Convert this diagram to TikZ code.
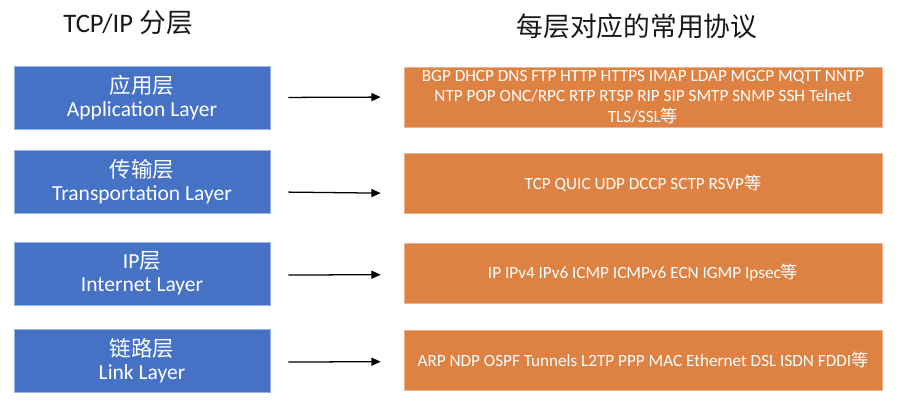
\documentclass[tikz,border=0pt]{standalone}
\usepackage{fontspec}
\setmainfont{Carlito}
\newfontfamily\zhfont{Noto Sans CJK SC}
\newcommand{\zh}[1]{{\zhfont #1}}
\usepackage{tikz}
\usetikzlibrary{arrows.meta}
\definecolor{layerblue}{RGB}{69,114,196}
\definecolor{protoorange}{RGB}{222,130,68}

\begin{document}
\begin{tikzpicture}[x=0.025cm, y=-0.025cm,
    layer/.style={draw=layerblue!55, fill=layerblue, text=white, minimum width=6.4cm, minimum height=1.575cm, inner sep=0pt, align=center, font=\fontsize{15.3}{16.6}\selectfont},
    proto/.style={draw=protoorange!60, fill=protoorange, text=white, minimum width=11.95cm, minimum height=1.5cm, inner sep=0pt, align=center, font=\fontsize{12.2}{14.6}\selectfont},
    heading/.style={text=black!90, font=\fontsize{19}{22}\selectfont},
    arr/.style={-{Triangle[length=0.23cm, width=0.2cm]}, line width=0.9pt, shorten <=0.45cm, shorten >=0.575cm}
]
\useasboundingbox (0,0) rectangle (910,402);

\node[heading] (lefttitle) at (128,23) {TCP/IP \zh{分层}};
\node[heading] (righttitle) at (637,26) {\zh{每层对应的常用协议}};

\node[layer] (app) at (142,97.5) {\zh{应用层}\\Application Layer};
\node[layer] (trans) at (142,181.5) {\zh{传输层}\\Transportation Layer};
\node[layer] (inet) at (142,273.5) {IP\zh{层}\\Internet Layer};
\node[layer] (link) at (142,360.5) {\zh{链路层}\\Link Layer};

\node[proto] (appProt) at (643,97) {BGP DHCP DNS FTP HTTP HTTPS IMAP LDAP MGCP MQTT NNTP\\NTP POP ONC/RPC RTP RTSP RIP SIP SMTP SNMP SSH Telnet\\TLS/SSL\zh{等}};
\node[proto] (transProt) at (643,183) {TCP QUIC UDP DCCP SCTP RSVP\zh{等}};
\node[proto] (inetProt) at (643,273) {IP IPv4 IPv6 ICMP ICMPv6 ECN IGMP Ipsec\zh{等}};
\node[proto] (linkProt) at (643,360) {ARP NDP OSPF Tunnels L2TP PPP MAC Ethernet DSL ISDN FDDI\zh{等}};

\draw[arr] (app.east) -- (appProt.west);
\draw[arr] ([yshift=-0.26cm]trans.east) -- ([yshift=-0.26cm]transProt.west);
\draw[arr] ([yshift=-0.04cm]inet.east) -- ([yshift=-0.04cm]inetProt.west);
\draw[arr] ([yshift=-0.04cm]link.east) -- ([yshift=-0.04cm]linkProt.west);
\end{tikzpicture}
\end{document}
